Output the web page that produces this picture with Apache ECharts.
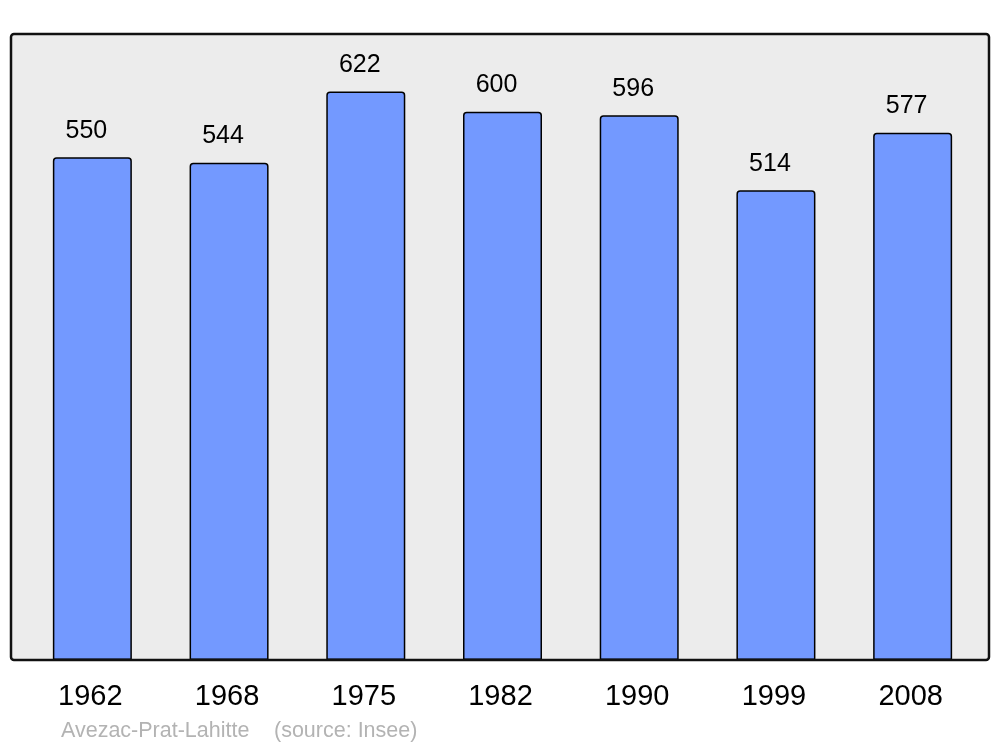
<!DOCTYPE html>
<html>
<head>
<meta charset="utf-8">
<script src="https://cdn.jsdelivr.net/npm/echarts@6/dist/echarts.min.js"></script>
<style>html,body{margin:0;padding:0;background:#fff;}#c{width:1000px;height:747px;}</style>
</head>
<body>
<div id="c"></div>
<script>
const years = ['1962', '1968', '1975', '1982', '1990', '1999', '2008'];
const population = [550, 544, 622, 600, 596, 514, 577];
const placeName = 'Avezac-Prat-Lahitte';
const sourceText = '(source: Insee)';

const chart = echarts.init(document.getElementById('c'), null, {renderer: 'canvas'});
chart.setOption({
  animation: false,
  backgroundColor: '#ffffff',
  textStyle: {fontFamily: 'Liberation Sans, Arial, sans-serif'},
  grid: {left: 24, right: 19, top: 34, bottom: 87, containLabel: false},
  graphic: [
    {type: 'rect', z: -1, silent: true,
     shape: {x: 11, y: 34, width: 978, height: 626, r: 3},
     style: {fill: '#ececec', stroke: null}},
    {type: 'rect', z: 10, silent: true,
     shape: {x: 11, y: 34, width: 978, height: 626, r: 3},
     style: {fill: null, stroke: '#111', lineWidth: 2.5}},
    {type: 'text', left: 61, top: 720, silent: true,
     style: {text: placeName, fill: '#b3b3b3', font: '21.5px "Liberation Sans", Arial, sans-serif'}},
    {type: 'text', left: 274, top: 720, silent: true,
     style: {text: sourceText, fill: '#b3b3b3', font: '21.5px "Liberation Sans", Arial, sans-serif'}}
  ],
  xAxis: {
    type: 'category',
    data: years,
    axisLine: {show: false},
    axisTick: {show: false},
    axisLabel: {color: '#000', fontSize: 29, margin: 22, fontFamily: 'Liberation Sans, Arial, sans-serif',
                padding: [0, 4, 0, 0]}
  },
  yAxis: {
    type: 'value',
    min: 0,
    max: 685,
    show: false,
    splitLine: {show: false}
  },
  series: [{
    type: 'bar',
    data: population,
    barWidth: 79,
    itemStyle: {color: '#7399ff', borderColor: '#000', borderWidth: 1.5, borderRadius: [3, 3, 0, 0]},
    label: {show: true, position: 'top', distance: 14, offset: [-6, 0], color: '#000', fontSize: 25,
            fontFamily: 'Liberation Sans, Arial, sans-serif'}
  }]
});
</script>
</body>
</html>
